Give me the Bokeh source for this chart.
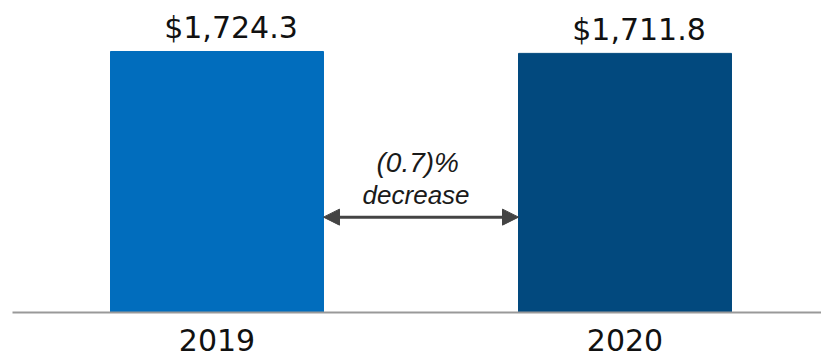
from bokeh.plotting import figure
from bokeh.models import ColumnDataSource, Range1d, FixedTicker, Arrow, NormalHead
from bokeh.core.properties import value
from bokeh.embed import file_html
from bokeh.resources import INLINE

# Annual totals ($ millions)
years = [2019, 2020]
year_labels = ["2019", "2020"]
totals = [1724.3, 1711.8]
bar_colors = ["#016DBD", "#02497E"]
value_labels = ["${:,.1f}".format(v) for v in totals]

change_pct = (totals[1] - totals[0]) / totals[0] * 100
change_text = "({:.1f})%".format(abs(change_pct)) if change_pct < 0 else "{:.1f}%".format(change_pct)
change_word = "decrease" if change_pct < 0 else "increase"

BAR_W = 0.522

src = ColumnDataSource(dict(year=years, total=totals, color=bar_colors, label=value_labels))

p = figure(width=821, height=356, output_backend="svg", toolbar_location=None,
           x_range=Range1d(2018.4988, 2020.4816), y_range=Range1d(0, 2061.2),
           min_border_left=12, min_border_right=0, min_border_top=0, min_border_bottom=44)

p.vbar(x="year", top="total", width=BAR_W, color="color", source=src)

# value labels above each bar
p.text(x="year", y="total", text="label", source=src, x_offset=14, y_offset=-24,
       text_align="center", text_baseline="alphabetic",
       text_font=value("DejaVu Sans"), text_font_size="30px", text_color="#111111")

# change arrow spanning the gap between the bars
arrow_y = 630
p.add_layout(Arrow(x_start=years[0] + BAR_W / 2, x_end=years[1] - BAR_W / 2,
                   y_start=arrow_y, y_end=arrow_y,
                   line_color="#444444", line_width=3,
                   start=NormalHead(size=16, fill_color="#444444", line_color="#444444"),
                   end=NormalHead(size=16, fill_color="#444444", line_color="#444444")))

mid = (years[0] + years[1]) / 2
p.text(x=[mid - 0.008], y=[990], text=[change_text], text_align="center",
       text_baseline="alphabetic", text_font=value("Liberation Sans"),
       text_font_style="italic", text_font_size="28px", text_color="#1a1a1a")
p.text(x=[mid - 0.012], y=[778], text=[change_word], text_align="center",
       text_baseline="alphabetic", text_font=value("Liberation Sans"),
       text_font_style="italic", text_font_size="26px", text_color="#1a1a1a")

p.xaxis.ticker = FixedTicker(ticks=years)
p.xaxis.major_label_overrides = {y: l for y, l in zip(years, year_labels)}
p.xaxis.major_label_text_font = "DejaVu Sans"
p.xaxis.major_label_text_font_size = "30px"
p.xaxis.major_label_text_color = "#111111"
p.xaxis.major_label_standoff = 10
p.xaxis.axis_line_color = "#999999"
p.xaxis.axis_line_width = 2
p.xaxis.major_tick_line_color = None
p.xaxis.minor_tick_line_color = None
p.yaxis.visible = False
p.xgrid.visible = False
p.ygrid.visible = False
p.outline_line_color = None

open("out.html", "w").write(file_html(p, INLINE))
